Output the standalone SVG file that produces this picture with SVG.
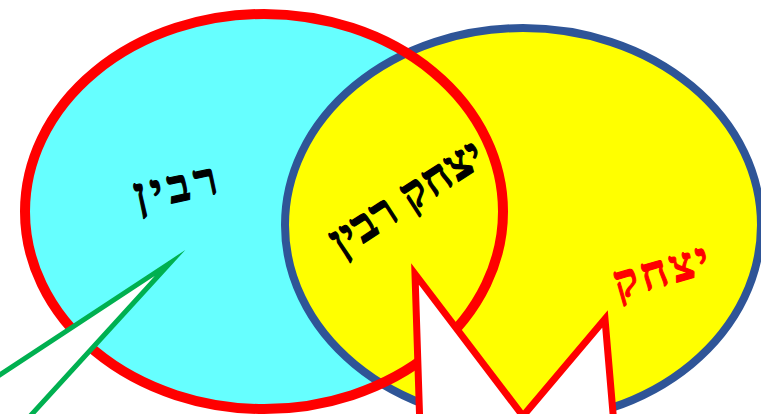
<svg xmlns="http://www.w3.org/2000/svg" width="761" height="414" viewBox="0 0 761 414">
<style>
.lbl{font-family:"Liberation Serif","DejaVu Serif",serif;font-weight:bold;font-size:46px;text-anchor:middle;stroke-width:1.1;stroke-linejoin:round}
.callout{fill:#FFFFFF;stroke-linejoin:miter;stroke-miterlimit:20}
</style>
<rect width="761" height="414" fill="#FFFFFF"/>
<g id="rabin-set">
<ellipse cx="264" cy="211.5" rx="239" ry="197.5" fill="#66FFFF"/>
</g>
<g id="yitzhak-set">
<ellipse cx="523" cy="225" rx="238" ry="197" fill="#FFFF00" stroke="#2F5597" stroke-width="8"/>
</g>
<g id="rabin-border">
<ellipse cx="264" cy="211.5" rx="239" ry="197.5" fill="none" stroke="#FF0000" stroke-width="10"/>
</g>
<g id="label-rabin">
<text class="lbl" fill="#000000" stroke="#000000" transform="translate(176,190) rotate(-12)" y="12" textLength="84" lengthAdjust="spacing">רבין</text>
</g>
<g id="label-both">
<text class="lbl" fill="#000000" stroke="#000000" transform="translate(408,200) rotate(-33)" y="12" textLength="174" lengthAdjust="spacing">יצחק רבין</text>
</g>
<g id="label-yitzhak">
<text class="lbl" fill="#FF0000" stroke="#FF0000" transform="translate(662,274) rotate(-16)" y="12" textLength="98" lengthAdjust="spacing">יצחק</text>
</g>
<g id="connectors">
<polygon class="callout" stroke="#00B050" stroke-width="5" points="170,263 -40,401 -40,460 -10,460"/>
<polygon class="callout" stroke="#FF0000" stroke-width="7" points="421,460 415,274 523,416 605,319 617,460"/>
</g>
</svg>
